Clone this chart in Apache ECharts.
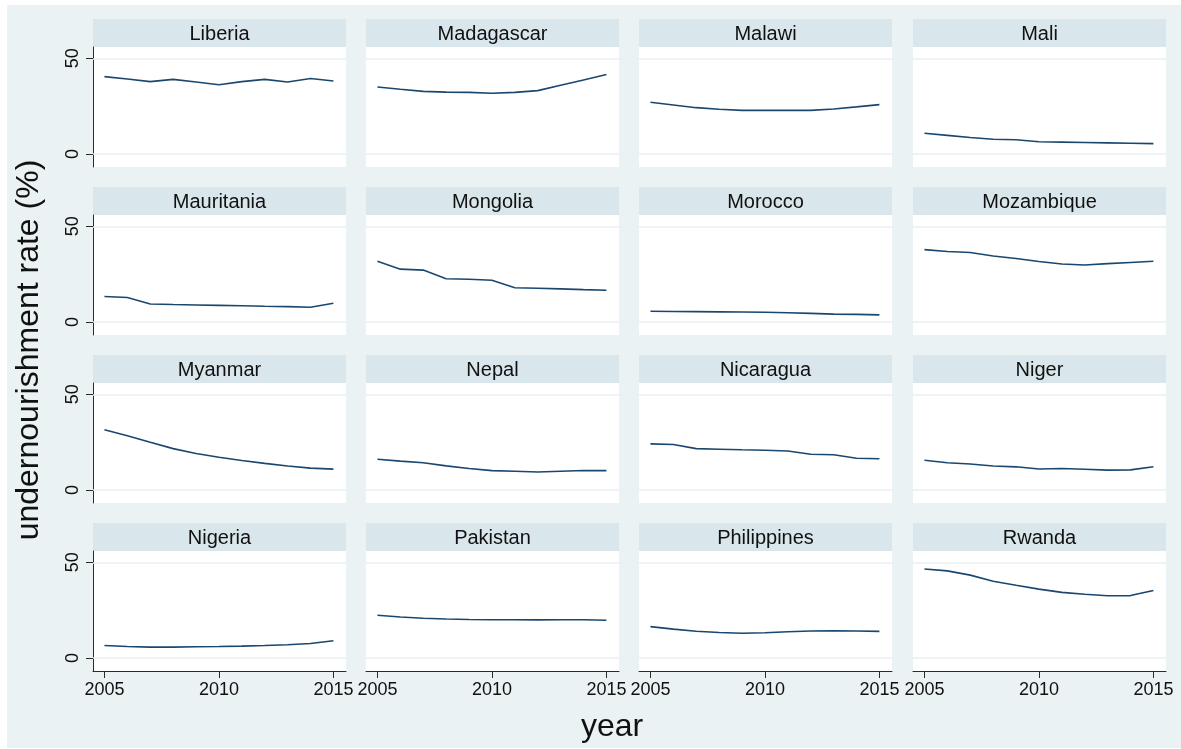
<!DOCTYPE html>
<html>
<head>
<meta charset="utf-8">
<script src="https://cdn.jsdelivr.net/npm/echarts@6/dist/echarts.min.js"></script>
<style>
  html, body { margin: 0; padding: 0; background: #ffffff; }
  #chart { width: 1181px; height: 749px; }
</style>
</head>
<body>
<div id="chart"></div>
<script>
// Undernourishment rate (%) by country, 2005-2015
const years = [2005, 2006, 2007, 2008, 2009, 2010, 2011, 2012, 2013, 2014, 2015];
const xTickLabels = [2005, 2010, 2015];
const yTickLabels = [0, 50];

const countries = [
  'Liberia', 'Madagascar', 'Malawi', 'Mali',
  'Mauritania', 'Mongolia', 'Morocco', 'Mozambique',
  'Myanmar', 'Nepal', 'Nicaragua', 'Niger',
  'Nigeria', 'Pakistan', 'Philippines', 'Rwanda'
];

const liberia     = [40.4, 39.2, 37.8, 39.0, 37.6, 36.2, 37.8, 39.0, 37.6, 39.4, 38.1];
const madagascar  = [35.0, 33.8, 32.7, 32.3, 32.2, 31.7, 32.2, 33.1, 35.9, 38.7, 41.5];
const malawi      = [27.0, 25.6, 24.2, 23.4, 22.8, 22.8, 22.8, 22.8, 23.5, 24.6, 25.8];
const mali        = [10.8, 9.7, 8.6, 7.7, 7.4, 6.4, 6.2, 6.0, 5.8, 5.6, 5.4];
const mauritania  = [13.3, 12.8, 9.4, 9.1, 8.9, 8.7, 8.5, 8.2, 8.0, 7.7, 9.8];
const mongolia    = [31.7, 27.6, 27.1, 22.6, 22.3, 21.8, 17.9, 17.6, 17.3, 16.9, 16.6];
const morocco     = [5.6, 5.5, 5.4, 5.3, 5.2, 5.1, 4.8, 4.5, 4.1, 4.0, 3.7];
const mozambique  = [37.8, 36.8, 36.3, 34.5, 33.2, 31.6, 30.3, 29.8, 30.5, 31.1, 31.7];
const myanmar     = [31.5, 28.3, 24.9, 21.6, 19.1, 17.1, 15.4, 13.9, 12.5, 11.4, 10.9];
const nepal       = [16.1, 15.1, 14.2, 12.6, 11.2, 10.1, 9.8, 9.4, 9.8, 10.2, 10.1];
const nicaragua   = [24.1, 23.8, 21.6, 21.3, 21.0, 20.8, 20.4, 18.7, 18.4, 16.6, 16.3];
const niger       = [15.5, 14.2, 13.6, 12.5, 12.1, 11.0, 11.2, 10.8, 10.4, 10.5, 12.1];
const nigeria     = [6.5, 6.0, 5.7, 5.7, 5.9, 6.0, 6.2, 6.5, 6.9, 7.6, 9.0];
const pakistan    = [22.3, 21.4, 20.8, 20.4, 20.1, 20.0, 20.0, 19.9, 20.0, 20.0, 19.7];
const philippines = [16.4, 15.1, 14.0, 13.3, 12.9, 13.2, 13.7, 14.1, 14.2, 14.1, 13.9];
const rwanda      = [46.5, 45.5, 43.3, 40.1, 38.0, 36.0, 34.3, 33.3, 32.5, 32.6, 35.3];

const seriesValues = [
  liberia, madagascar, malawi, mali,
  mauritania, mongolia, morocco, mozambique,
  myanmar, nepal, nicaragua, niger,
  nigeria, pakistan, philippines, rwanda
];

// Panel layout (pixels)
const FONT = '"Liberation Sans", Arial, Helvetica, sans-serif';
const colLeft = [93, 366, 639, 913];
const rowTop = [47, 215, 383, 551];
const panelW = 253;
const panelH = 120;
const stripH = 28;
const X_MIN = 2004.5, X_MAX = 2015.55;
const Y_MIN = -6.8, Y_MAX = 55.9;
const LINE_COLOR = '#1A476F';
const AXIS_COLOR = '#2b2b2b';

const grids = [], xAxes = [], yAxes = [], series = [], graphics = [];

countries.forEach((name, i) => {
  const r = Math.floor(i / 4), c = i % 4;
  const left = colLeft[c], top = rowTop[r];
  const isBottom = r === 3, isLeft = c === 0;

  grids.push({
    left: left, top: top, width: panelW, height: panelH,
    show: true, backgroundColor: '#ffffff', borderWidth: 0
  });

  xAxes.push({
    gridIndex: i, type: 'value', min: X_MIN, max: X_MAX,
    show: isBottom,
    splitLine: { show: false },
    axisLine: { show: true, onZero: false, lineStyle: { color: AXIS_COLOR, width: 1 } },
    axisTick: { show: true, length: 7, customValues: xTickLabels, lineStyle: { color: AXIS_COLOR } },
    axisLabel: {
      show: true, customValues: xTickLabels, margin: 10,
      fontFamily: FONT, fontSize: 18, color: '#111',
      formatter: v => String(v)
    }
  });

  yAxes.push({
    gridIndex: i, type: 'value', min: Y_MIN, max: Y_MAX,
    show: isLeft,
    splitLine: { show: false },
    axisLine: { show: true, onZero: false, lineStyle: { color: AXIS_COLOR, width: 1 } },
    axisTick: { show: true, length: 7, customValues: yTickLabels, lineStyle: { color: AXIS_COLOR } },
    axisLabel: {
      show: true, customValues: yTickLabels, rotate: 90, margin: 11,
      fontFamily: FONT, fontSize: 18, color: '#111',
      formatter: v => String(v)
    }
  });

  series.push({
    type: 'line', name: name, xAxisIndex: i, yAxisIndex: i,
    data: years.map((y, k) => [y, seriesValues[i][k]]),
    showSymbol: false, symbol: 'none', smooth: false,
    lineStyle: { color: LINE_COLOR, width: 1.6 },
    animation: false, z: 3,
    markLine: {
      silent: true, symbol: 'none', animation: false,
      label: { show: false },
      lineStyle: { color: '#E8EFF2', width: 1.5, type: 'solid' },
      data: yTickLabels.map(v => ({ yAxis: v }))
    }
  });

  // strip header above each panel
  graphics.push({
    type: 'rect', silent: true,
    shape: { x: left, y: top - stripH, width: panelW, height: stripH },
    style: { fill: '#D9E6EB' }
  });
  graphics.push({
    type: 'text', silent: true,
    x: left + panelW / 2, y: top - stripH / 2 + 1,
    style: {
      text: name, fontFamily: FONT, fontSize: 20, fill: '#111',
      align: 'center', verticalAlign: 'middle'
    }
  });
});

// white margins around the graph region
graphics.push({ type: 'rect', silent: true, shape: { x: 0, y: 0, width: 1181, height: 5 }, style: { fill: '#ffffff' } });
graphics.push({ type: 'rect', silent: true, shape: { x: 0, y: 0, width: 7, height: 749 }, style: { fill: '#ffffff' } });
graphics.push({ type: 'rect', silent: true, shape: { x: 0, y: 748, width: 1181, height: 1 }, style: { fill: '#ffffff' } });

// axis titles
graphics.push({
  type: 'text', silent: true, x: 29, y: 350, rotation: Math.PI / 2,
  style: {
    text: 'undernourishment rate (%)', fontFamily: FONT, fontSize: 32, fill: '#111',
    align: 'center', verticalAlign: 'middle'
  }
});
graphics.push({
  type: 'text', silent: true, x: 612, y: 727,
  style: {
    text: 'year', fontFamily: FONT, fontSize: 32, fill: '#111',
    align: 'center', verticalAlign: 'middle'
  }
});

const chart = echarts.init(document.getElementById('chart'), null, { renderer: 'canvas' });
chart.setOption({
  backgroundColor: '#EAF2F3',
  animation: false,
  grid: grids,
  xAxis: xAxes,
  yAxis: yAxes,
  series: series,
  graphic: { elements: graphics }
});
</script>
</body>
</html>
